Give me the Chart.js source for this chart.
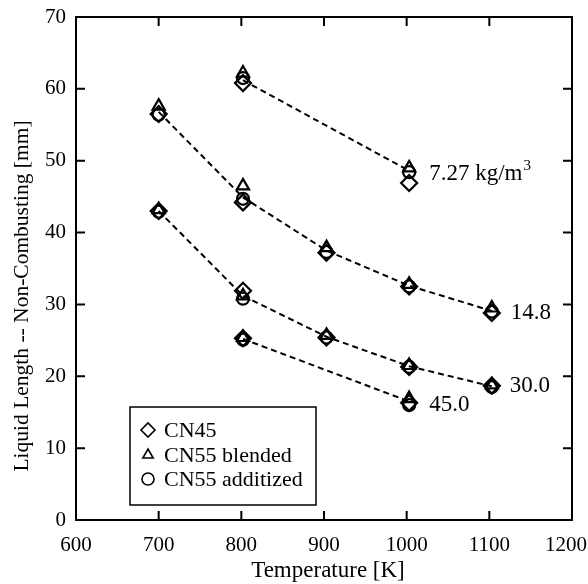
<!DOCTYPE html>
<html><head><meta charset="utf-8">
<script src="https://cdn.jsdelivr.net/npm/chart.js@4/dist/chart.umd.min.js"></script>
<style>html,body{margin:0;padding:0;background:#fff}#wrap{width:588px;height:584px}</style>
</head><body><div id="wrap"><canvas id="c" width="588" height="584"></canvas></div>
<script>
const temps = [700, 802, 903, 1003, 1103];
const densities = ['7.27', '14.8', '30.0', '45.0'];
const cn45 = {
  '7.27': [null, 60.8, null, 46.9, null],
  '14.8': [56.5, 44.2, 37.2, 32.5, 28.8],
  '30.0': [43.0, 31.9, 25.4, 21.3, 18.7],
  '45.0': [null, 25.3, null, 16.3, null]
};
const cn55blended = {
  '7.27': [null, 62.2, null, 49.0, null],
  '14.8': [57.6, 46.5, 37.9, 32.8, 29.5],
  '30.0': [43.2, 31.2, 25.7, 21.5, 18.8],
  '45.0': [null, 25.4, null, 16.9, null]
};
const cn55additized = {
  '7.27': [null, 61.5, null, 48.4, null],
  '14.8': [56.4, 44.7, 37.3, 32.5, 29.0],
  '30.0': [42.9, 30.8, 25.4, 21.3, 18.5],
  '45.0': [null, 25.1, null, 16.0, null]
};
const fitLines = {
  '7.27': [null, 61.2, null, 48.6, null],
  '14.8': [56.8, 44.9, 37.5, 32.6, 29.1],
  '30.0': [43.0, 31.2, 25.5, 21.4, 18.6],
  '45.0': [null, 25.2, null, 16.5, null]
};
const densityLabels = ['7.27 kg/m\u00B3', '14.8', '30.0', '45.0'];
const xTicks = [600, 700, 800, 900, 1000, 1100, 1200];
const yTicks = [0, 10, 20, 30, 40, 50, 60, 70];
const seriesNames = ['CN45', 'CN55 blended', 'CN55 additized'];
const xTitle = 'Temperature [K]';
const yTitle = 'Liquid Length -- Non-Combusting [mm]';

const FONT = '"Liberation Serif", "DejaVu Serif", serif';

function pts(obj) {
  const out = [];
  densities.forEach(d => obj[d].forEach((v, i) => { if (v !== null) out.push({x: temps[i], y: v}); }));
  return out;
}
function linePts(d) {
  const out = [];
  fitLines[d].forEach((v, i) => { if (v !== null) out.push({x: temps[i], y: v}); });
  return out;
}

const styles = [
  {pointStyle: 'rectRot', radius: 8},
  {pointStyle: 'triangle', radius: 7},
  {pointStyle: 'circle', radius: 6}
];
const datasets = [];
densities.forEach(d => {
  datasets.push({
    label: 'fit ' + d, data: linePts(d), showLine: true, borderColor: '#000',
    borderWidth: 2, borderDash: [6, 4], pointRadius: 0, fill: false
  });
});
[cn45, cn55blended, cn55additized].forEach((s, k) => {
  datasets.push({
    label: seriesNames[k], data: pts(s), showLine: false,
    pointStyle: styles[k].pointStyle, pointRadius: styles[k].radius,
    pointBorderColor: '#000', pointBackgroundColor: 'rgba(255,255,255,0)',
    pointBorderWidth: 2.2
  });
});

const framePlugin = {
  id: 'frame',
  afterDraw(chart) {
    const {ctx, chartArea: a, scales} = chart;
    ctx.save();
    ctx.strokeStyle = '#000';
    ctx.lineWidth = 2;
    ctx.strokeRect(a.left, a.top, a.right - a.left, a.bottom - a.top);
    const L = 9;
    ctx.beginPath();
    xTicks.forEach(t => {
      const x = scales.x.getPixelForValue(t);
      ctx.moveTo(x, a.bottom); ctx.lineTo(x, a.bottom - L);
      ctx.moveTo(x, a.top); ctx.lineTo(x, a.top + L);
    });
    yTicks.forEach(t => {
      const y = scales.y.getPixelForValue(t);
      ctx.moveTo(a.left, y); ctx.lineTo(a.left + L, y);
      ctx.moveTo(a.right, y); ctx.lineTo(a.right - L, y);
    });
    ctx.stroke();

    ctx.fillStyle = '#000';
    // x tick labels
    ctx.font = '21px ' + FONT;
    ctx.textBaseline = 'middle';
    xTicks.forEach(t => {
      let x = scales.x.getPixelForValue(t);
      const w = ctx.measureText(String(t)).width;
      ctx.textAlign = 'center';
      if (x + w / 2 > chart.width - 1) x = chart.width - 1 - w / 2;
      ctx.fillText(String(t), x, a.bottom + 25);
    });
    // y tick labels
    ctx.textAlign = 'right';
    yTicks.forEach(t => {
      const y = scales.y.getPixelForValue(t);
      ctx.fillText(String(t), a.left - 10, y);
    });
    // axis titles
    ctx.textAlign = 'center';
    ctx.font = '23px ' + FONT;
    ctx.fillText(xTitle, (a.left + a.right) / 2 + 4, 571);
    ctx.save();
    ctx.translate(22, 296);
    ctx.rotate(-Math.PI / 2);
    ctx.font = '21.5px ' + FONT;
    ctx.fillText(yTitle, 0, 0);
    ctx.restore();

    // density labels
    ctx.font = '23px ' + FONT;
    ctx.textAlign = 'left';
    const offs = [[20, 3], [19, 2], [18, 0], [20, 4]];
    densities.forEach((d, k) => {
      const arr = fitLines[d];
      let li = arr.length - 1; while (arr[li] === null) li--;
      const x = scales.x.getPixelForValue(temps[li]) + offs[k][0];
      const y = scales.y.getPixelForValue(arr[li]) + offs[k][1];
      if (k === 0) {
        ctx.fillText('7.27 kg/m', x, y);
        const w = ctx.measureText('7.27 kg/m').width;
        ctx.font = '15px ' + FONT;
        ctx.fillText('3', x + w + 1, y - 8);
        ctx.font = '23px ' + FONT;
      } else {
        ctx.fillText(densityLabels[k], x, y);
      }
    });

    // legend box
    const bx = 130, by = 407, bw = 186, bh = 98;
    ctx.fillStyle = '#fff';
    ctx.fillRect(bx, by, bw, bh);
    ctx.lineWidth = 1.5;
    ctx.strokeRect(bx, by, bw, bh);
    const rows = [430, 455, 479];
    seriesNames.forEach((n, k) => {
      const ps = styles[k].pointStyle;
      ctx.lineWidth = 1.6;
      ctx.strokeStyle = '#000';
      ctx.fillStyle = 'rgba(255,255,255,0)';
      Chart.helpers.drawPoint(ctx, {pointStyle: ps, radius: k === 0 ? 7 : 6, borderWidth: 1.6}, 148, rows[k]);
      ctx.fillStyle = '#000';
      ctx.font = '22px ' + FONT;
      ctx.textAlign = 'left';
      ctx.fillText(n, 164, rows[k] + 1);
    });
    ctx.restore();
  }
};

new Chart(document.getElementById('c'), {
  type: 'scatter',
  data: {datasets},
  options: {
    responsive: false, animation: false, devicePixelRatio: 1,
    layout: {padding: {top: 17, right: 16, left: 0, bottom: 0}},
    plugins: {legend: {display: false}, tooltip: {enabled: false}},
    scales: {
      x: {
        type: 'linear', min: 600, max: 1200,
        afterBuildTicks(s) { s.ticks = xTicks.map(v => ({value: v})); },
        afterFit(s) { s.height = 64; s.paddingRight = 0; s.paddingLeft = 0; },
        grid: {display: false}, border: {display: false},
        ticks: {display: false},
        title: {display: false}
      },
      y: {
        type: 'linear', min: 0, max: 70,
        afterBuildTicks(s) { s.ticks = yTicks.map(v => ({value: v})); },
        afterFit(s) { s.width = 76; s.paddingTop = 0; s.paddingBottom = 0; },
        grid: {display: false}, border: {display: false},
        ticks: {display: false},
        title: {display: false}
      }
    }
  },
  plugins: [framePlugin]
});
</script></body></html>
